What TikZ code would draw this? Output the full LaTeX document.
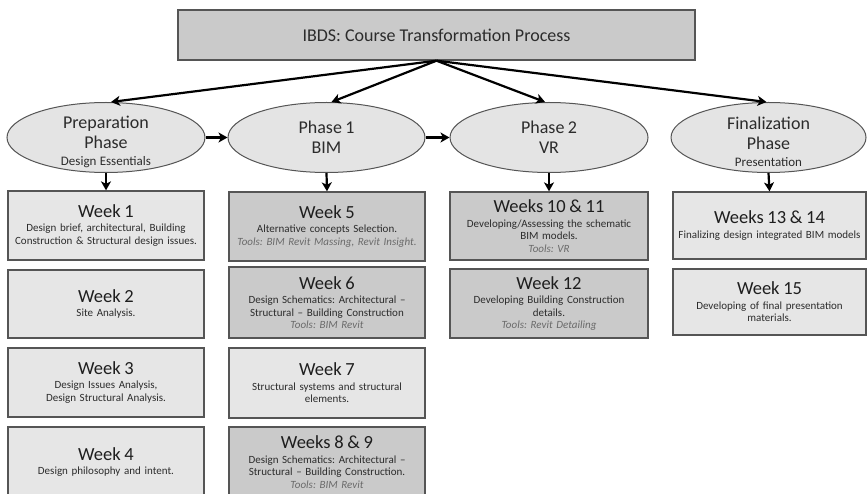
\documentclass[tikz,border=0pt]{standalone}
\usepackage{fontspec}
\setmainfont{Carlito}
\usetikzlibrary{shapes.geometric,arrows.meta}
\frenchspacing

\definecolor{edgegray}{HTML}{555555}
\definecolor{lightfill}{HTML}{E6E6E6}
\definecolor{darkfill}{HTML}{CACACA}
\definecolor{ovalfill}{HTML}{E4E4E4}
\definecolor{headtxt}{HTML}{1E1E1E}
\definecolor{bodytxt}{HTML}{2C2C2C}
\definecolor{tooltxt}{HTML}{6A6A6A}

% heading line of a week box, and the italic tools line
\newcommand\wkhead[1]{{\fontsize{18.5}{20}\selectfont\color{headtxt}#1\par}\vspace{2pt}}
\newcommand\wktools[1]{{\itshape\color{tooltxt}#1}}
\newcommand\phtitle{\fontsize{18}{20}\selectfont}
\newcommand\phsub{\fontsize{13}{17}\selectfont}

\tikzset{
  wk/.style={draw=edgegray, line width=1.3pt, inner sep=0pt, align=center,
    font=\fontsize{11}{12.5}\selectfont, text=bodytxt},
  lightwk/.style={wk, fill=lightfill},
  darkwk/.style={wk, fill=darkfill},
  colA/.style={minimum width=196pt, text width=192pt},
  colB/.style={minimum width=196pt, text width=192pt},
  colC/.style={minimum width=198pt, text width=194pt},
  colD/.style={minimum width=193pt, text width=190pt},
  phase/.style={ellipse, draw=edgegray, line width=1pt, fill=ovalfill,
    inner sep=0pt, minimum height=70pt},
  phasetext/.style={inner sep=0pt, text width=170pt, align=center, text=bodytxt},
  topbox/.style={draw=edgegray, line width=1.4pt, fill=darkfill, inner sep=0pt,
    minimum width=517pt, minimum height=50pt,
    font=\fontsize{18}{20}\selectfont, text=bodytxt},
  arr/.style={-{Stealth[length=9pt,width=10pt,inset=2.5pt]}, line width=2.2pt, black},
}

\begin{document}
\begin{tikzpicture}[x=1pt,y=-1pt]
\useasboundingbox (0,0) rectangle (867,494);
\clip (0,0) rectangle (867,494);
\fill[white] (0,0) rectangle (867,494);

% title box
\node[topbox] (top) at (436.5,35) {IBDS: Course Transformation Process};

% phase ovals and their labels
\node[phase, minimum width=198pt] (prep) at (106,137.5) {};
\node[phase, minimum width=197pt] (ph1) at (326.5,137.5) {};
\node[phase, minimum width=198pt] (ph2) at (549,137.5) {};
\node[phase, minimum width=195pt] (fin) at (768.5,137.5) {};

\node[phasetext] (prep-t) at ([yshift=-4pt]prep.center)
  {{\phtitle Preparation\\Phase\par}{\phsub Design Essentials\par}};
\node[phasetext] (ph1-t) at (ph1.center) {{\phtitle Phase 1\\BIM\par}};
\node[phasetext] (ph2-t) at (ph2.center) {{\phtitle Phase 2\\VR\par}};
\node[phasetext] (fin-t) at ([yshift=-4pt]fin.center)
  {{\phtitle Finalization\\Phase\par}{\phsub Presentation\par}};

% preparation weeks
\node[lightwk, colA, minimum height=69pt] (w1) at (106,225.5)
  {\wkhead{Week 1}Design brief, architectural, Building\\Construction \& Structural design issues.};
\node[lightwk, colA, minimum height=68pt] (w2) at (106,304)
  {\wkhead{Week 2}Site Analysis.};
\node[lightwk, colA, minimum height=69pt] (w3) at (106,382.5)
  {\wkhead{Week 3}Design Issues Analysis,\\Design Structural Analysis.};
\node[lightwk, colA, minimum height=70pt] (w4) at (106,462)
  {\wkhead{Week 4}Design philosophy and intent.};

% phase 1 weeks
\node[darkwk, colB, minimum height=69pt] (w5) at (327,226.5)
  {\wkhead{Week 5}Alternative concepts Selection.\\\wktools{Tools: BIM Revit Massing, Revit Insight.}};
\node[darkwk, colB, minimum height=71pt] (w6) at (327,302.5)
  {\wkhead{Week 6}Design Schematics: Architectural --\\Structural -- Building Construction\\\wktools{Tools: BIM Revit}};
\node[lightwk, colB, minimum height=70pt] (w7) at (327,383)
  {\wkhead{Week 7}Structural systems and structural\\elements.};
\node[darkwk, colB, minimum height=70pt] (w89) at (327,462)
  {\wkhead{Weeks 8 \& 9}Design Schematics: Architectural --\\Structural -- Building Construction.\\\wktools{Tools: BIM Revit}};

% phase 2 weeks
\node[darkwk, colC, minimum height=68pt] (w1011) at (549,226)
  {\wkhead{Weeks 10 \& 11}Developing/Assessing the schematic\\BIM models.\\\wktools{Tools: VR}};
\node[darkwk, colC, minimum height=69pt] (w12) at (549,303.5)
  {\wkhead{Week 12}Developing Building Construction\\details.\\\wktools{Tools: Revit Detailing}};

% finalization weeks
\node[lightwk, colD, minimum height=67pt] (w1314) at (769.5,225.5)
  {\wkhead{Weeks 13 \& 14}Finalizing design integrated BIM models};
\node[lightwk, colD, minimum height=66pt] (w15) at (769.5,302)
  {\wkhead{Week 15}Developing of final presentation\\materials.};

% connectors from the title
\coordinate (hub) at (top.south);
\draw[arr] (hub) -- ([xshift=5pt]prep.north);
\draw[arr] (hub) -- ([xshift=5pt]ph1.north);
\draw[arr] (hub) -- ([xshift=-4pt]ph2.north);
\draw[arr] (hub) -- ([xshift=-2pt]fin.north);

% sequence between phases
\draw[arr] (prep.east) -- (ph1.west);
\draw[arr] (ph1.east) -- (ph2.west);

% phases down to their first week
\draw[arr] (prep.south) -- (w1.north);
\draw[arr] (ph1.south) -- (w5.north);
\draw[arr] (ph2.south) -- (w1011.north);
\draw[arr] (fin.south) -- (w1314.north);
\end{tikzpicture}
\end{document}
